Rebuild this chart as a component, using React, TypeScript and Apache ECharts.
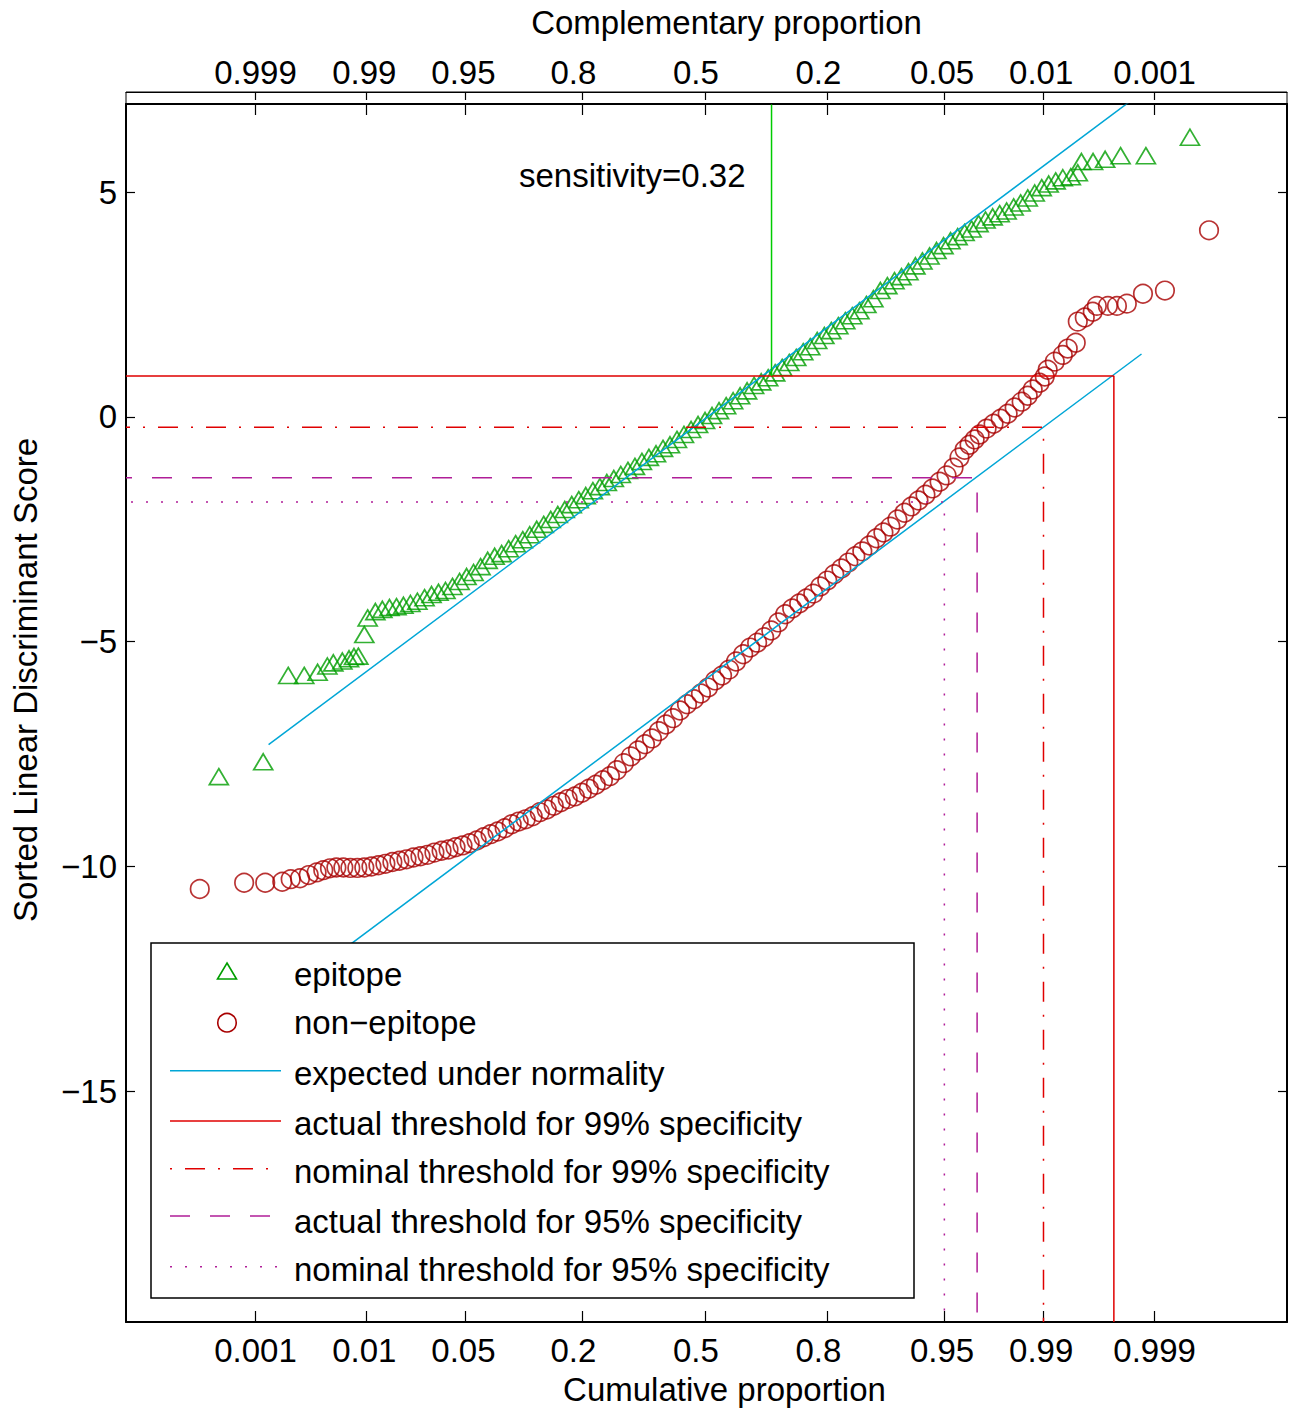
import React, { useEffect, useRef } from 'react';
import * as echarts from 'echarts';

// ---------- axis ticks ----------
const probTicks = [0.001, 0.01, 0.05, 0.2, 0.5, 0.8, 0.95, 0.99, 0.999];
const probTickQuantiles = [-3.0902, -2.3263, -1.6449, -0.8416, 0, 0.8416, 1.6449, 2.3263, 3.0902];
const cumulativeLabels = ['0.001', '0.01', '0.05', '0.2', '0.5', '0.8', '0.95', '0.99', '0.999'];
const complementaryLabels = ['0.999', '0.99', '0.95', '0.8', '0.5', '0.2', '0.05', '0.01', '0.001'];
const scoreTicks = [-15, -10, -5, 0, 5];

const X_MIN = -3.98;
const X_MAX = 4.0;
const Y_MIN = -20.13;
const Y_MAX = 6.96;

// ---------- data: [normal quantile of plotting position, sorted score] ----------
const epitopePoints: number[][] = [
  [-3.342, -8.0], [-3.037, -7.67], [-2.865, -5.75], [-2.755, -5.75], [-2.663, -5.68], [-2.596, -5.54],
  [-2.555, -5.47], [-2.493, -5.43], [-2.447, -5.38], [-2.413, -5.33], [-2.383, -5.32], [-2.342, -4.84],
  [-2.319, -4.47],
  [-2.266, -4.33], [-2.218, -4.28], [-2.169, -4.24], [-2.121, -4.22], [-2.073, -4.19], [-2.025, -4.15],
  [-1.977, -4.1], [-1.928, -4.02], [-1.88, -3.95], [-1.832, -3.9], [-1.784, -3.86], [-1.736, -3.77],
  [-1.687, -3.66], [-1.639, -3.55], [-1.591, -3.46], [-1.543, -3.33], [-1.494, -3.19], [-1.446, -3.1],
  [-1.398, -3.04], [-1.35, -2.93], [-1.302, -2.82], [-1.253, -2.73], [-1.205, -2.62], [-1.157, -2.5],
  [-1.109, -2.39], [-1.061, -2.28], [-1.012, -2.17], [-0.964, -2.06], [-0.916, -1.95], [-0.868, -1.84],
  [-0.82, -1.75], [-0.771, -1.64], [-0.723, -1.55], [-0.675, -1.46], [-0.627, -1.37], [-0.579, -1.28],
  [-0.53, -1.19], [-0.482, -1.1], [-0.434, -0.99], [-0.386, -0.9], [-0.337, -0.82], [-0.289, -0.7],
  [-0.241, -0.62], [-0.193, -0.5], [-0.145, -0.39], [-0.096, -0.28], [-0.048, -0.17], [0, -0.08],
  [0.048, 0.03], [0.096, 0.14], [0.145, 0.25], [0.193, 0.36], [0.241, 0.47], [0.289, 0.58],
  [0.337, 0.7], [0.386, 0.78], [0.434, 0.87], [0.482, 0.98], [0.53, 1.1], [0.579, 1.21],
  [0.627, 1.32], [0.675, 1.45], [0.723, 1.56], [0.771, 1.7], [0.82, 1.81], [0.868, 1.92],
  [0.916, 2.03], [0.964, 2.14], [1.012, 2.25], [1.061, 2.36], [1.109, 2.5], [1.157, 2.63],
  [1.205, 2.81], [1.253, 2.92], [1.302, 3.03], [1.35, 3.12], [1.398, 3.23], [1.446, 3.36],
  [1.494, 3.47], [1.543, 3.58], [1.591, 3.7], [1.639, 3.81], [1.687, 3.92], [1.736, 4.01],
  [1.784, 4.1], [1.832, 4.18], [1.88, 4.3], [1.928, 4.38], [1.977, 4.45], [2.025, 4.52],
  [2.073, 4.58], [2.121, 4.67], [2.169, 4.76], [2.218, 4.87], [2.266, 4.98], [2.314, 5.1],
  [2.362, 5.18], [2.41, 5.25], [2.459, 5.32], [2.514, 5.34], [2.562, 5.43],
  [2.587, 5.68], [2.667, 5.68], [2.75, 5.73], [2.856, 5.81], [3.03, 5.81], [3.333, 6.22],
];

const nonEpitopePoints: number[][] = [
  [-3.473, -10.5], [-3.168, -10.36], [-3.023, -10.36], [-2.906, -10.34], [-2.848, -10.28], [-2.784, -10.26],
  [-2.724, -10.19], [-2.67, -10.13], [-2.624, -10.08], [-2.578, -10.04], [-2.534, -10.02],
  [-2.486, -10.02], [-2.438, -10.03], [-2.39, -10.03], [-2.342, -10.02], [-2.293, -10.0], [-2.245, -9.97],
  [-2.197, -9.94], [-2.149, -9.9], [-2.101, -9.87], [-2.052, -9.84], [-2.004, -9.8], [-1.956, -9.77],
  [-1.908, -9.74], [-1.86, -9.69], [-1.811, -9.65], [-1.763, -9.62], [-1.715, -9.57], [-1.667, -9.53],
  [-1.618, -9.48], [-1.57, -9.42], [-1.522, -9.35], [-1.474, -9.28], [-1.426, -9.22], [-1.377, -9.15],
  [-1.329, -9.06], [-1.281, -9.0], [-1.233, -8.95], [-1.185, -8.88], [-1.136, -8.79], [-1.088, -8.73],
  [-1.04, -8.65], [-0.992, -8.57], [-0.944, -8.5], [-0.895, -8.44], [-0.847, -8.36], [-0.799, -8.27],
  [-0.751, -8.18], [-0.702, -8.08], [-0.654, -7.99], [-0.606, -7.86], [-0.558, -7.7], [-0.51, -7.55],
  [-0.461, -7.42], [-0.413, -7.28], [-0.365, -7.15], [-0.317, -6.99], [-0.269, -6.84], [-0.22, -6.7],
  [-0.172, -6.53], [-0.124, -6.39], [-0.076, -6.28], [-0.028, -6.15], [0.021, -6.02], [0.069, -5.86],
  [0.117, -5.75], [0.165, -5.62], [0.213, -5.44], [0.262, -5.28], [0.31, -5.13], [0.358, -5.02],
  [0.406, -4.9], [0.455, -4.75], [0.503, -4.57], [0.551, -4.39], [0.599, -4.26], [0.647, -4.15],
  [0.696, -4.04], [0.744, -3.93], [0.792, -3.77], [0.84, -3.64], [0.888, -3.5], [0.937, -3.37],
  [0.985, -3.24], [1.033, -3.1], [1.081, -2.99], [1.129, -2.86], [1.178, -2.7], [1.226, -2.57],
  [1.274, -2.44], [1.322, -2.28], [1.371, -2.13], [1.419, -1.99], [1.467, -1.86], [1.515, -1.73],
  [1.563, -1.59], [1.612, -1.44], [1.66, -1.3], [1.708, -1.13], [1.749, -0.9], [1.784, -0.73],
  [1.818, -0.62], [1.853, -0.5], [1.887, -0.39], [1.935, -0.26], [1.983, -0.15], [2.032, -0.04],
  [2.08, 0.07], [2.128, 0.21], [2.176, 0.34], [2.218, 0.47], [2.252, 0.61], [2.3, 0.76],
  [2.335, 0.9], [2.355, 1.05], [2.404, 1.23], [2.459, 1.38], [2.493, 1.52], [2.548, 1.65],
  [2.562, 2.12], [2.61, 2.21], [2.665, 2.34], [2.693, 2.47], [2.769, 2.47], [2.831, 2.47],
  [2.899, 2.52], [3.01, 2.74], [3.161, 2.81], [3.464, 4.15],
];

// expected-under-normality lines (end points)
const expectedEpitopeLine = [[-3, -7.29], [3, 7.21]];
const expectedNonEpitopeLine = [[-3, -13.09], [3, 1.4]];

// thresholds: [actual 99%, nominal 99%, actual 95%, nominal 95%]
const thresholdScores = [0.91, -0.23, -1.35, -1.89];
const thresholdQuantiles = [2.81, 2.3263, 1.87, 1.6449];
const sensitivityQuantile = 0.457;
const sensitivityText = 'sensitivity=0.32';

// ---------- styling ----------
const FONT = 'Liberation Sans';
const FS = 33;
const GREEN = '#009E00';
const DARKRED = '#A80000';
const CYAN = '#00A6D6';
const RED = '#E00000';
const MAGENTA = '#B01E98';
const BRIGHTGREEN = '#00CC00';

const axisText = { color: '#000', fontFamily: FONT, fontSize: FS };
const SPACE_W = FS * 0.278;

// labels are centred as if padded with trailing spaces
const padRich = {
  p0: { ...axisText, padding: [0, 0, 0, 0] },
  p1: { ...axisText, padding: [0, 0.5 * SPACE_W, 0, 0] },
  p2: { ...axisText, padding: [0, 2 * SPACE_W, 0, 0] },
};

const quantileLabel = (labels: string[]) => (v: number) => {
  const i = probTickQuantiles.findIndex((q) => Math.abs(q - v) < 1e-6);
  if (i < 0) return '';
  const s = labels[i];
  const pad = Math.max(0, 5 - s.length);
  return `{p${pad}|${s}}`;
};
const scoreLabel = (v: number) => (v < 0 ? '\u2212' + Math.abs(v) : String(v));

const lineSeries = (name: string, data: number[][], color: string, type: any, dashOffset = 0) => ({
  type: 'line',
  name,
  data,
  showSymbol: false,
  symbol: 'none',
  silent: true,
  z: 4,
  lineStyle: { color, width: 1.5, type, dashOffset },
});

const legendRows = [
  { label: 'epitope', kind: 'triangle', iconY: 971, textY: 974 },
  { label: 'non\u2212epitope', kind: 'circle', iconY: 1022.7, textY: 1022 },
  { label: 'expected under normality', kind: 'line', color: CYAN, dash: null, iconY: 1070.7, textY: 1073 },
  { label: 'actual threshold for 99% specificity', kind: 'line', color: RED, dash: null, iconY: 1121, textY: 1123 },
  { label: 'nominal threshold for 99% specificity', kind: 'line', color: RED, dash: [2, 13, 20, 13], iconY: 1168.7, textY: 1171 },
  { label: 'actual threshold for 95% specificity', kind: 'line', color: MAGENTA, dash: [20, 20], iconY: 1216, textY: 1221 },
  { label: 'nominal threshold for 95% specificity', kind: 'line', color: MAGENTA, dash: [2, 13], iconY: 1266.7, textY: 1269 },
];

function buildLegend(): any[] {
  const els: any[] = [
    {
      type: 'rect',
      shape: { x: 151, y: 943, width: 763, height: 355 },
      style: { fill: '#fff', stroke: '#000', lineWidth: 1.5 },
      z: 100,
    },
  ];
  legendRows.forEach((r: any) => {
    if (r.kind === 'triangle') {
      els.push({
        type: 'polygon',
        shape: { points: [[227, r.iconY - 8], [236.5, r.iconY + 8], [217.5, r.iconY + 8]] },
        style: { fill: 'none', stroke: GREEN, lineWidth: 1.6 },
        z: 101,
      });
    } else if (r.kind === 'circle') {
      els.push({
        type: 'circle',
        shape: { cx: 227, cy: r.iconY, r: 9.25 },
        style: { fill: 'none', stroke: DARKRED, lineWidth: 1.6 },
        z: 101,
      });
    } else {
      els.push({
        type: 'line',
        shape: { x1: 170, y1: r.iconY, x2: 281, y2: r.iconY },
        style: { stroke: r.color, lineWidth: 1.5, lineDash: r.dash || undefined },
        z: 101,
      });
    }
    els.push({
      type: 'text',
      x: 294,
      y: r.textY,
      style: { text: r.label, fill: '#000', fontFamily: FONT, fontSize: FS, verticalAlign: 'middle', align: 'left' },
      z: 101,
    });
  });
  return els;
}

const xCommon = { type: 'value', min: X_MIN, max: X_MAX, splitLine: { show: false } };
const yCommon = { type: 'value', min: Y_MIN, max: Y_MAX, splitLine: { show: false } };

const option: any = {
  animation: false,
  backgroundColor: '#fff',
  textStyle: { fontFamily: FONT },
  grid: { left: 126, right: 3, top: 104, bottom: 87, containLabel: false },
  xAxis: [
    {
      ...xCommon,
      position: 'bottom',
      name: 'Cumulative proportion',
      nameLocation: 'middle',
      nameGap: 51,
      nameTextStyle: { ...axisText, padding: [0, 0, 0, 36] },
      axisLine: { show: true, onZero: false, lineStyle: { color: '#000', width: 2 } },
      axisTick: { show: true, inside: true, length: 11, customValues: probTickQuantiles, lineStyle: { color: '#000', width: 1.2 } },
      axisLabel: {
        show: true,
        margin: 12,
        customValues: probTickQuantiles,
        formatter: quantileLabel(cumulativeLabels),
        ...axisText,
        rich: padRich,
      },
    },
    {
      ...xCommon,
      position: 'top',
      axisLine: { show: true, onZero: false, lineStyle: { color: '#000', width: 2 } },
      axisTick: { show: true, inside: true, length: 11, customValues: probTickQuantiles, lineStyle: { color: '#000', width: 1.2 } },
      axisLabel: { show: false },
    },
    {
      ...xCommon,
      position: 'top',
      offset: 12,
      name: 'Complementary proportion',
      nameLocation: 'middle',
      nameGap: 53,
      nameTextStyle: { ...axisText, padding: [0, 0, 0, 40] },
      axisLine: { show: true, onZero: false, lineStyle: { color: '#000', width: 1 } },
      axisTick: { show: true, inside: true, length: 8, customValues: probTickQuantiles, lineStyle: { color: '#000', width: 1.2 } },
      axisLabel: {
        show: true,
        margin: 3,
        customValues: probTickQuantiles,
        formatter: quantileLabel(complementaryLabels),
        ...axisText,
        rich: padRich,
      },
    },
  ],
  yAxis: [
    {
      ...yCommon,
      position: 'left',
      name: 'Sorted Linear Discriminant Score',
      nameLocation: 'middle',
      nameGap: 84,
      nameRotate: 90,
      nameTextStyle: { ...axisText, padding: [0, 0, 0, 66] },
      axisLine: { show: true, onZero: false, lineStyle: { color: '#000', width: 2 } },
      axisTick: { show: true, inside: true, length: 9, customValues: scoreTicks, lineStyle: { color: '#000', width: 1.2 } },
      axisLabel: { show: true, margin: 9, customValues: scoreTicks, formatter: scoreLabel, ...axisText },
    },
    {
      ...yCommon,
      position: 'right',
      axisLine: { show: true, onZero: false, lineStyle: { color: '#000', width: 2 } },
      axisTick: { show: true, inside: true, length: 9, customValues: scoreTicks, lineStyle: { color: '#000', width: 1.2 } },
      axisLabel: { show: false },
    },
  ],
  series: [
    {
      type: 'scatter',
      name: 'epitope',
      data: epitopePoints,
      symbol: 'triangle',
      symbolSize: [19, 16],
      silent: true,
      z: 2,
      itemStyle: { color: 'rgba(0,0,0,0)', borderColor: GREEN, borderWidth: 1.7 },
    },
    {
      type: 'scatter',
      name: 'non\u2212epitope',
      data: nonEpitopePoints,
      symbol: 'circle',
      symbolSize: 18.5,
      silent: true,
      z: 2,
      itemStyle: { color: 'rgba(0,0,0,0)', borderColor: DARKRED, borderWidth: 1.7 },
    },
    lineSeries('expected under normality', expectedEpitopeLine, CYAN, 'solid'),
    lineSeries('expected under normality', expectedNonEpitopeLine, CYAN, 'solid'),
    lineSeries(
      'actual threshold for 99% specificity',
      [[X_MIN, thresholdScores[0]], [thresholdQuantiles[0], thresholdScores[0]], [thresholdQuantiles[0], Y_MIN]],
      RED,
      'solid'
    ),
    lineSeries(
      'nominal threshold for 99% specificity',
      [[X_MIN, thresholdScores[1]], [thresholdQuantiles[1], thresholdScores[1]], [thresholdQuantiles[1], Y_MIN]],
      RED,
      [20, 13, 2, 13],
      16
    ),
    lineSeries(
      'actual threshold for 95% specificity',
      [[X_MIN, thresholdScores[2]], [thresholdQuantiles[2], thresholdScores[2]], [thresholdQuantiles[2], Y_MIN]],
      MAGENTA,
      [20, 20],
      14
    ),
    lineSeries(
      'nominal threshold for 95% specificity',
      [[X_MIN, thresholdScores[3]], [thresholdQuantiles[3], thresholdScores[3]], [thresholdQuantiles[3], Y_MIN]],
      MAGENTA,
      [2, 13],
      10
    ),
    lineSeries('sensitivity', [[sensitivityQuantile, thresholdScores[0]], [sensitivityQuantile, Y_MAX]], BRIGHTGREEN, 'solid'),
  ],
  graphic: [
    {
      type: 'rect',
      shape: { x: 126, y: 92, width: 1161, height: 12 },
      style: { fill: 'none', stroke: '#000', lineWidth: 1 },
      z: 50,
    },
    {
      type: 'text',
      x: 519,
      y: 175,
      style: { text: sensitivityText, fill: '#000', fontFamily: FONT, fontSize: FS, verticalAlign: 'middle', align: 'left' },
      z: 50,
    },
    ...buildLegend(),
  ],
};

export default function App() {
  const ref = useRef<HTMLDivElement>(null);
  useEffect(() => {
    if (!ref.current) return;
    const chart = echarts.init(ref.current, null, { renderer: 'svg' });
    chart.setOption(option);
    return () => chart.dispose();
  }, []);
  return (
    <div
      ref={ref}
      style={{ position: 'absolute', left: 0, top: 0, width: 1290, height: 1411, background: '#fff' }}
    />
  );
}
